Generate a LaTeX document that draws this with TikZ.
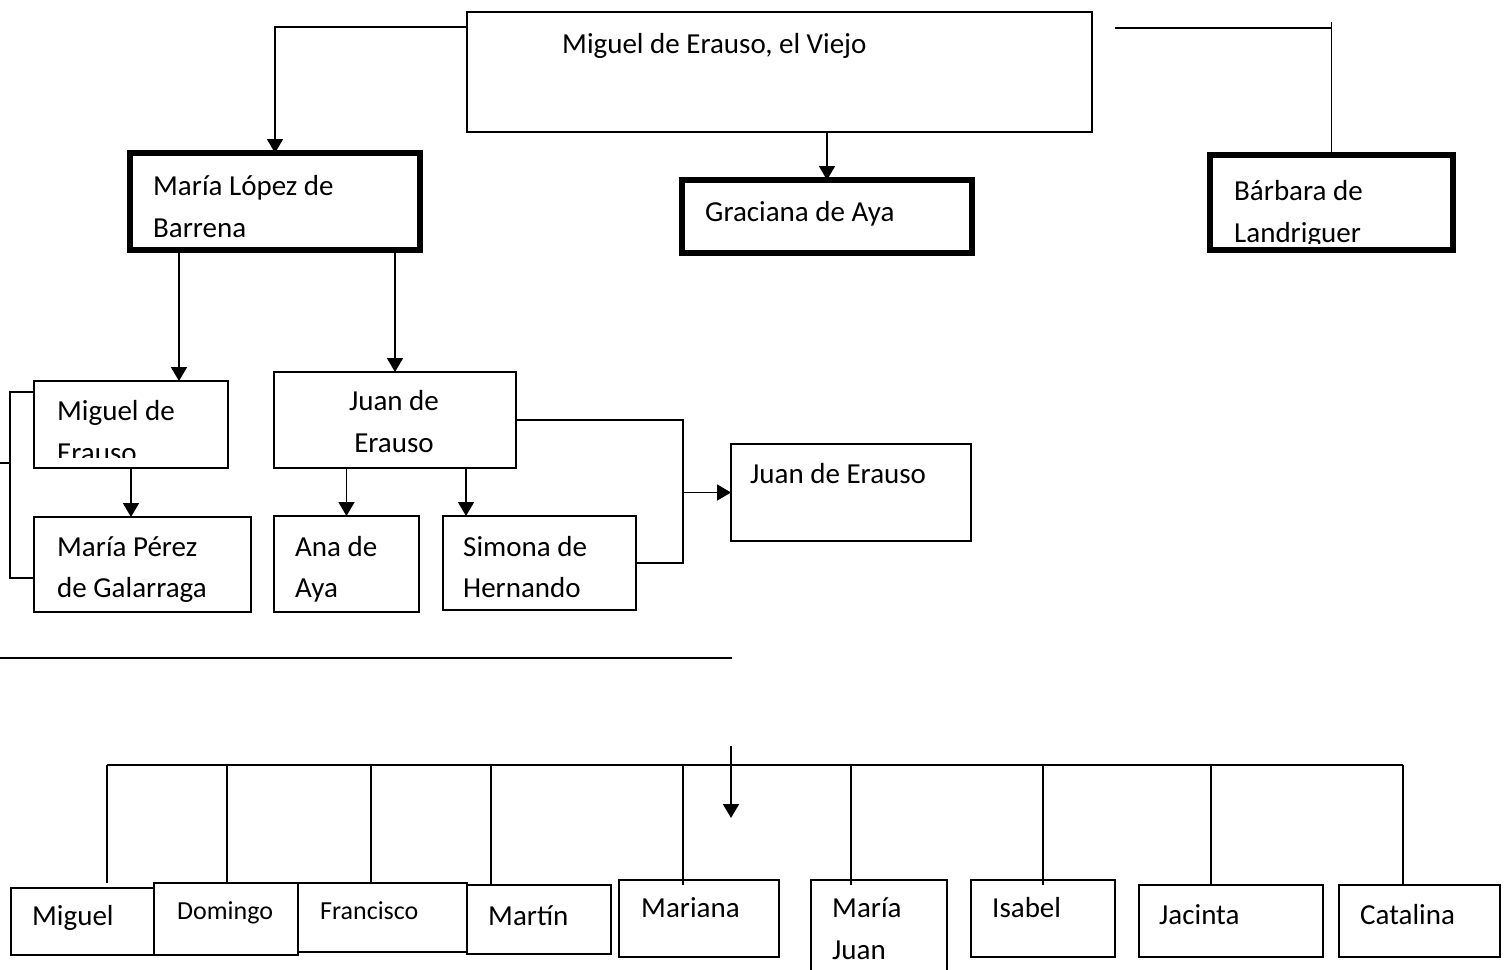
\documentclass[tikz,border=0pt]{standalone}
\usepackage{fontspec}
\setmainfont{Carlito}
\usetikzlibrary{arrows.meta}
\begin{document}
\begin{tikzpicture}[x=1pt,y=-1pt,
  boxthin/.style={draw, rectangle, line width=1.8pt, inner sep=0pt, outer sep=0pt},
  boxthick/.style={draw, rectangle, line width=5.5pt, inner sep=0pt, outer sep=0pt},
  conn/.style={line width=1.8pt},
  arr/.style={conn, -{Triangle[length=14pt,width=16pt]}},
  txt/.style={inner sep=0pt, anchor=base west, font=\fontsize{29}{35}\selectfont},
  txtc/.style={txt, anchor=base},
  txtb/.style={inner sep=0pt, anchor=base west, font=\fontsize{29}{35}\selectfont},
  txts/.style={inner sep=0pt, anchor=base west, font=\fontsize{26}{31}\selectfont}]
\useasboundingbox (0,0) rectangle (1509,969);

% ---- boxes (upper part)
\node[boxthin, minimum width=625pt, minimum height=120pt] (tv) at (779.5,72) {};
\node[boxthick, minimum width=290pt, minimum height=97pt] (mlb) at (275,201.5) {};
\node[boxthick, minimum width=290pt, minimum height=73pt] (gda) at (827,216.5) {};
\node[boxthick, minimum width=243pt, minimum height=95pt] (bdl) at (1331.5,202.5) {};
\node[boxthin, minimum width=194pt, minimum height=87pt] (mde) at (131,424.5) {};
\node[boxthin, minimum width=242pt, minimum height=96pt] (jde) at (395,420) {};
\node[boxthin, minimum width=240pt, minimum height=97pt] (jre) at (851,492.5) {};
\node[boxthin, minimum width=217pt, minimum height=95pt] (mpg) at (142.5,564.5) {};
\node[boxthin, minimum width=145pt, minimum height=96pt] (ana) at (346.5,564) {};
\node[boxthin, minimum width=193pt, minimum height=94pt] (smh) at (539.5,563) {};

% ---- boxes (lower row)
\node[boxthin, minimum width=143pt, minimum height=67pt] (b1) at (82.5,921.5) {};
\node[boxthin, minimum width=144pt, minimum height=72pt] (b2) at (226,919) {};
\node[boxthin, minimum width=169pt, minimum height=69pt] (b3) at (382.5,917.5) {};
\node[boxthin, minimum width=144pt, minimum height=69pt] (b4) at (539,919.5) {};
\node[boxthin, minimum width=160pt, minimum height=77pt] (b5) at (699,918.5) {};
\node[boxthin, minimum width=136pt, minimum height=120pt] (b6) at (879,940) {};
\node[boxthin, minimum width=144pt, minimum height=77pt] (b7) at (1043,918.5) {};
\node[boxthin, minimum width=184pt, minimum height=72pt] (b8) at (1231,921) {};
\node[boxthin, minimum width=161pt, minimum height=72pt] (b9) at (1419.5,921) {};

% ---- texts
\node[txt] (t-tv) at (562,53) {Miguel de Erauso, el Viejo};
\node[txt] (t-mlb1) at (153,195) {María López de};
\node[txt] (t-mlb2) at (153,237) {Barrena};
\node[txt] (t-gda) at (705,221) {Graciana de Aya};
\begin{scope}
  \clip (1210,155) rectangle (1453,243);
  \node[txt] (t-bdl1) at (1234,200) {Bárbara de};
  \node[txt] (t-bdl2) at (1234,242) {Landriguer};
\end{scope}
\begin{scope}
  \clip (34,381) rectangle (228,457);
  \node[txt] (t-mde1) at (57,420) {Miguel de};
  \node[txt] (t-mde2) at (57,462) {Erauso};
\end{scope}
\node[txtc] (t-jde1) at (394,410) {Juan de};
\node[txtc] (t-jde2) at (394,452) {Erauso};
\node[txt] (t-jre) at (750,483) {Juan de Erauso};
\node[txt] (t-mpg1) at (57,556) {María Pérez};
\node[txt] (t-mpg2) at (57,597) {de Galarraga};
\node[txt] (t-ana1) at (295,556) {Ana de};
\node[txt] (t-ana2) at (295,597) {Aya};
\node[txt] (t-smh1) at (463,556) {Simona de};
\node[txt] (t-smh2) at (463,597) {Hernando};

\node[txtb] (t-b1) at (32,925) {Miguel};
\node[txts] (t-b2) at (177,919) {Domingo};
\node[txts] (t-b3) at (320,919) {Francisco};
\node[txtb] (t-b4) at (488,925) {Martín};
\node[txtb] (t-b5) at (641,917) {Mariana};
\node[txtb] (t-b6a) at (832,917) {María};
\node[txtb] (t-b6b) at (832,959) {Juan};
\node[txtb] (t-b7) at (992,917) {Isabel};
\node[txtb] (t-b8) at (1159,924) {Jacinta};
\node[txtb] (t-b9) at (1360,924) {Catalina};

% ---- connectors (upper part)
\coordinate (tvL) at (467,27);
\draw[arr] (tvL) -| (mlb.north);
\draw[arr] (tv.south -| gda.north) -- (gda.north);
\coordinate (bs) at (1115,28);
\coordinate (bt) at (1331.5,22);
\draw[conn] (bs) -- (bs -| bdl.north);
\draw[conn] (bt) -- (bdl.north);

\coordinate (c1) at (179,0);
\draw[arr] (mlb.south -| c1) -- (mde.north -| c1);
\draw[arr] (mlb.south -| jde.north) -- (jde.north);
\draw[arr] (mde.south) -- (mde.south |- mpg.north);
\draw[arr] (jde.south -| ana.north) -- (ana.north);
\coordinate (c2) at (466,0);
\draw[arr] (jde.south -| c2) -- (smh.north -| c2);
\coordinate (c3) at (683,0);
\draw[conn] (jde.east) -- (jde.east -| c3) -- (smh.east -| c3) -- (smh.east);
\draw[arr] (jre.west -| c3) -- (jre.west);

% left bracket
\coordinate (L1) at (10,392);
\coordinate (L2) at (10,578);
\coordinate (L0) at (0,463);
\draw[conn] (mde.west |- L1) -- (L1) -- (L2) -- (mpg.west |- L2);
\draw[conn] (L0) -- (L0 -| L1);

% long line and arrow
\coordinate (H1) at (0,658);
\coordinate (H2) at (732,658);
\draw[conn] (H1) -- (H2);
\coordinate (A1) at (731,746);
\coordinate (A2) at (731,818);
\draw[arr] (A1) -- (A2);

% ---- bus and drops (lower row)
\coordinate (B1) at (107,765);
\coordinate (B2) at (1403,765);
\draw[conn] (B1) -- (B2);
\coordinate (d1) at (107,883);
\coordinate (d5) at (683,885);
\coordinate (d6) at (851,885);
\coordinate (d7) at (1043,885);
\draw[conn] (d1 |- B1) -- (d1);
\draw[conn] (B1 -| 227,0) -- (b2.north -| 227,0);
\draw[conn] (B1 -| 371,0) -- (b3.north -| 371,0);
\draw[conn] (B1 -| 491,0) -- (b4.north -| 491,0);
\draw[conn] (d5 |- B1) -- (d5);
\draw[conn] (d6 |- B1) -- (d6);
\draw[conn] (d7 |- B1) -- (d7);
\draw[conn] (B1 -| 1211,0) -- (b8.north -| 1211,0);
\draw[conn] (B2) -- (b9.north -| B2);
\end{tikzpicture}
\end{document}
